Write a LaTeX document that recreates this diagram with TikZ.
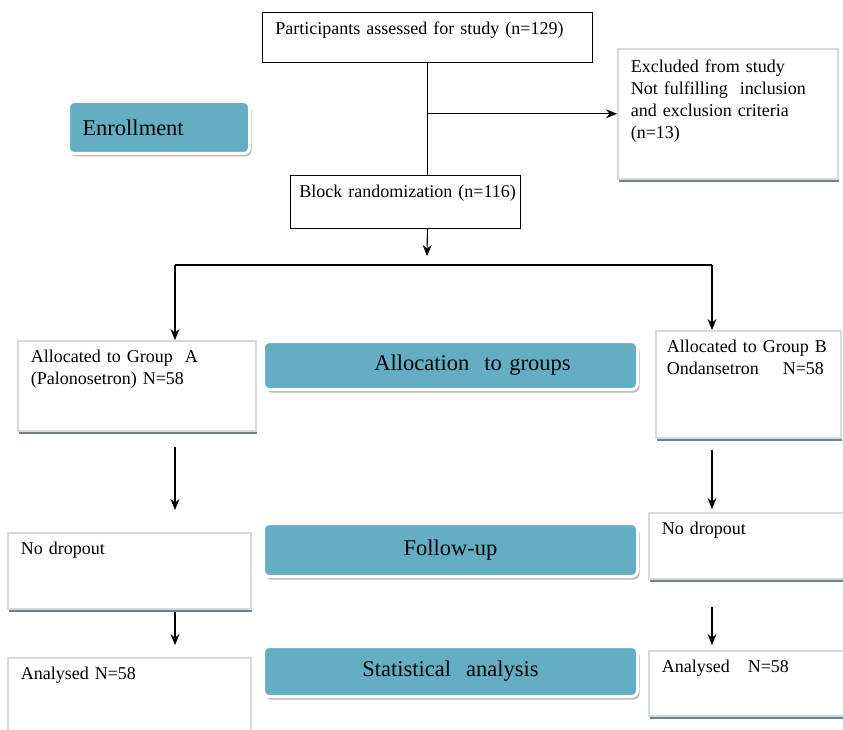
\documentclass[tikz,border=0pt]{standalone}
\usepackage{fontspec}
\setmainfont{Liberation Serif}
\usepackage{tikz}
\usetikzlibrary{arrows.meta,calc,shadows}

\definecolor{stageblue}{RGB}{99,174,196}
\definecolor{edgegray}{RGB}{212,218,222}
\definecolor{shadegray}{RGB}{110,128,142}
\newcommand\boxfont{\fontsize{18}{22}\selectfont}
\newcommand\stagefont{\fontsize{22.5}{26}\selectfont}

\tikzset{
  flowbox/.style={draw, fill=white, line width=0.9pt, anchor=north west, align=left,
    inner xsep=13pt, inner ysep=6pt, text height=16pt, font=\boxfont},
  softbox/.style={flowbox, draw=edgegray, line width=1.6pt,
    drop shadow={shadow xshift=1pt, shadow yshift=-3.5pt, fill=shadegray, opacity=1}},
  stagebox/.style={anchor=north west, rounded corners=6pt, fill=stageblue,
    draw=white, line width=3pt, inner xsep=14pt, font=\stagefont,
    drop shadow={shadow xshift=2pt, shadow yshift=-3pt, fill=gray!55, opacity=1}},
  flowarrow/.style={-{Stealth[length=11pt,width=9pt]}, line width=1.1pt},
  flowline/.style={line width=1.1pt}
}

\begin{document}
\begin{tikzpicture}[x=1pt, y=-1pt]
            \useasboundingbox (0,0) rectangle (843,730);

            \node[flowbox, text width=304pt, text depth=22pt] (part) at (262,12) {Participants assessed for study (n=129)};
            \node[softbox, text width=194pt, text depth=98pt, inner ysep=8pt] (excl) at (617,48) {Excluded from study\\\mbox{Not fulfilling\ \ inclusion}\\and exclusion criteria\\(n=13)};
            \node[flowbox, inner xsep=9pt, text width=212pt, text depth=25pt] (block) at (290,175) {\mbox{Block randomization (n=116)}};

            \node[stagebox, minimum width=181pt, minimum height=52pt, text width=153pt, align=left] (enroll) at (67,100) {Enrollment};
            \node[stagebox, minimum width=374pt, minimum height=48pt, text width=346pt, align=center] (alloc) at (262,340) {\hspace*{44pt}Allocation\ \ to groups};
            \node[stagebox, minimum width=374pt, minimum height=53pt, text width=346pt, align=center] (follow) at (262,522) {Follow-up};
            \node[stagebox, minimum width=374pt, minimum height=50pt, text width=346pt, align=center] (stat) at (262,645) {Statistical\ \ analysis};

            \node[softbox, text width=212pt, text depth=62pt] (grpA) at (17,340) {Allocated to Group\ \ A\\(Palonosetron) N=58};
            \node[softbox, inner xsep=11pt, text width=163pt, text depth=79pt] (grpB) at (655,330) {\mbox{Allocated to Group B}\\\mbox{Ondansetron\ \ \ \ N=58}};
            \node[softbox, text width=217pt, text depth=48pt] (dropA) at (7,532) {No dropout};
            \node[softbox, text width=169pt, text depth=38pt] (dropB) at (648,512) {No dropout};
            \node[softbox, text width=217pt, text depth=45pt] (anaA) at (7,657) {Analysed N=58};
            \node[softbox, text width=169pt, text depth=37pt] (anaB) at (648,650) {Analysed\ \ \ N=58};

            \coordinate (hub) at (427,256);
            \coordinate (forkL) at (175,265);
            \coordinate (forkR) at (712,265);

            \draw[flowline] (part.south) -- (part.south |- block.north);
            \draw[flowarrow] (part.south |- excl.west) -- (excl.west);
            \draw[flowarrow] (part.south |- block.south) -- (hub);
            \draw[flowline] (forkL) -- (forkR);
            \draw[flowarrow] (forkL) -- (forkL |- grpA.north);
            \draw[flowarrow] (forkR) -- (forkR |- grpB.north);

            \draw[flowarrow] ($(forkL |- grpA.south)+(0,15)$) -- ($(forkL |- dropA.north)+(0,-22)$);
            \draw[flowarrow] ($(forkR |- grpB.south)+(0,11)$) -- ($(forkR |- dropB.north)+(0,-3)$);
            \draw[flowarrow] ($(forkL |- dropA.south)+(0,2)$) -- ($(forkL |- anaA.north)+(0,-12)$);
            \draw[flowarrow] ($(forkR |- dropB.south)+(0,27)$) -- ($(forkR |- anaB.north)+(0,-5)$); %
        \end{tikzpicture}
\end{document}
